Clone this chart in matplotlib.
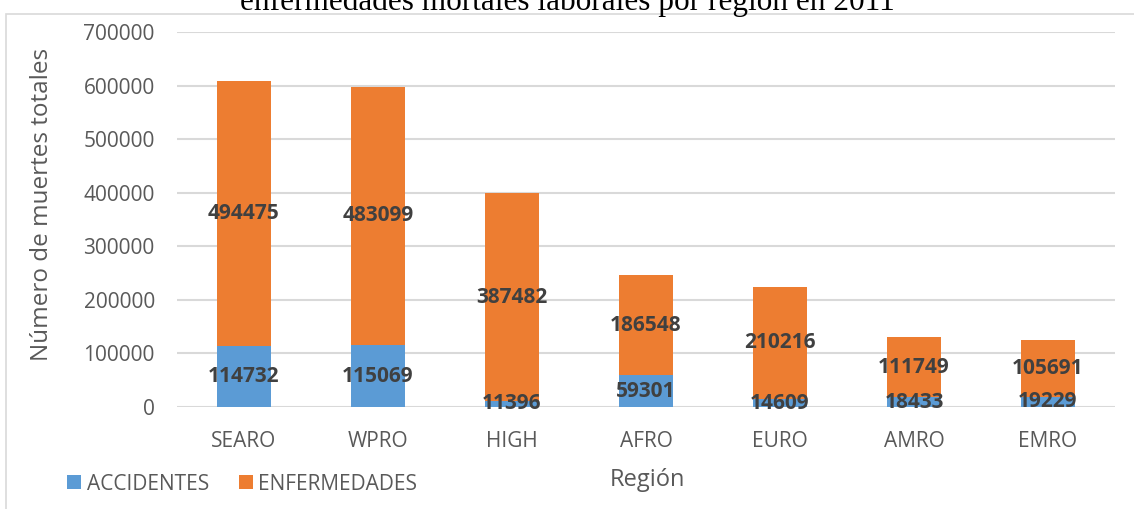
import numpy as np
import matplotlib.pyplot as plt
from matplotlib.patches import Rectangle

# datos
regiones = ['SEARO', 'WPRO', 'HIGH', 'AFRO', 'EURO', 'AMRO', 'EMRO']
accidentes = [114732, 115069, 11396, 59301, 14609, 18433, 19229]
enfermedades = [494475, 483099, 387482, 186548, 210216, 111749, 105691]
yticks = [0, 100000, 200000, 300000, 400000, 500000, 600000, 700000]

azul = '#5B9BD5'
naranja = '#ED7D31'
gris = '#595959'

fig = plt.figure(figsize=(11.34, 5.09), dpi=100)
ax = fig.add_axes([177/1134, 1-407/509, 938/1134, 375/509])

x = np.arange(len(regiones))
b1 = ax.bar(x, accidentes, 0.4, color=azul, label='ACCIDENTES', zorder=2)
b2 = ax.bar(x, enfermedades, 0.4, bottom=accidentes, color=naranja,
            label='ENFERMEDADES', zorder=2)

for i in range(len(regiones)):
    ax.text(x[i], accidentes[i]/2, str(accidentes[i]), ha='center', va='center',
            fontsize=15, fontweight='bold', color='#404040', family='Open Sans', zorder=3)
    ax.text(x[i], accidentes[i] + enfermedades[i]/2, str(enfermedades[i]),
            ha='center', va='center', fontsize=15, fontweight='bold',
            color='#404040', family='Open Sans', zorder=3)

ax.set_xlim(-0.5, len(regiones)-0.5)
ax.set_ylim(0, 700000)
ax.set_yticks(yticks)
ax.set_yticklabels([str(v) for v in yticks])
ax.set_xticks(x)
ax.set_xticklabels(regiones)
ax.grid(axis='y', color='#D9D9D9', linewidth=1.5, zorder=0)
for s in ax.spines.values():
    s.set_visible(False)
ax.tick_params(length=0, labelsize=15, labelcolor=gris)
ax.tick_params(axis='y', pad=16)
ax.tick_params(axis='x', pad=17)
for t in ax.get_xticklabels() + ax.get_yticklabels():
    t.set_family('Open Sans')

fig.text(42/1134, 1-204/509, 'Número de muertes totales', rotation=90,
         ha='center', va='center', fontsize=17.5, color=gris, family='Open Sans')
fig.text(647/1134, 1-480/509, 'Región', ha='center', va='center',
         fontsize=17, color=gris, family='Open Sans')

leg = fig.legend(handles=[b1, b2], loc='center left',
                 bbox_to_anchor=(57/1134, 1-484/509), ncol=2, frameon=False,
                 borderpad=0, handlelength=0.67, handleheight=0.67,
                 handletextpad=0.25, columnspacing=1.45,
                 prop={'family': 'Open Sans', 'size': 15})
for t in leg.get_texts():
    t.set_color(gris)

# marco del grafico
fig.patches.append(Rectangle((6/1134, -0.05), 1.1, 1-14/509+0.05,
                             transform=fig.transFigure, fill=False,
                             edgecolor='#D9D9D9', linewidth=1.2))

fig.text(567/1134, 1-10/509, 'enfermedades mortales laborales por región en 2011',
         ha='center', va='baseline', fontsize=22.5, family='Liberation Serif', color='black')

fig.savefig('out.png', dpi=100)
